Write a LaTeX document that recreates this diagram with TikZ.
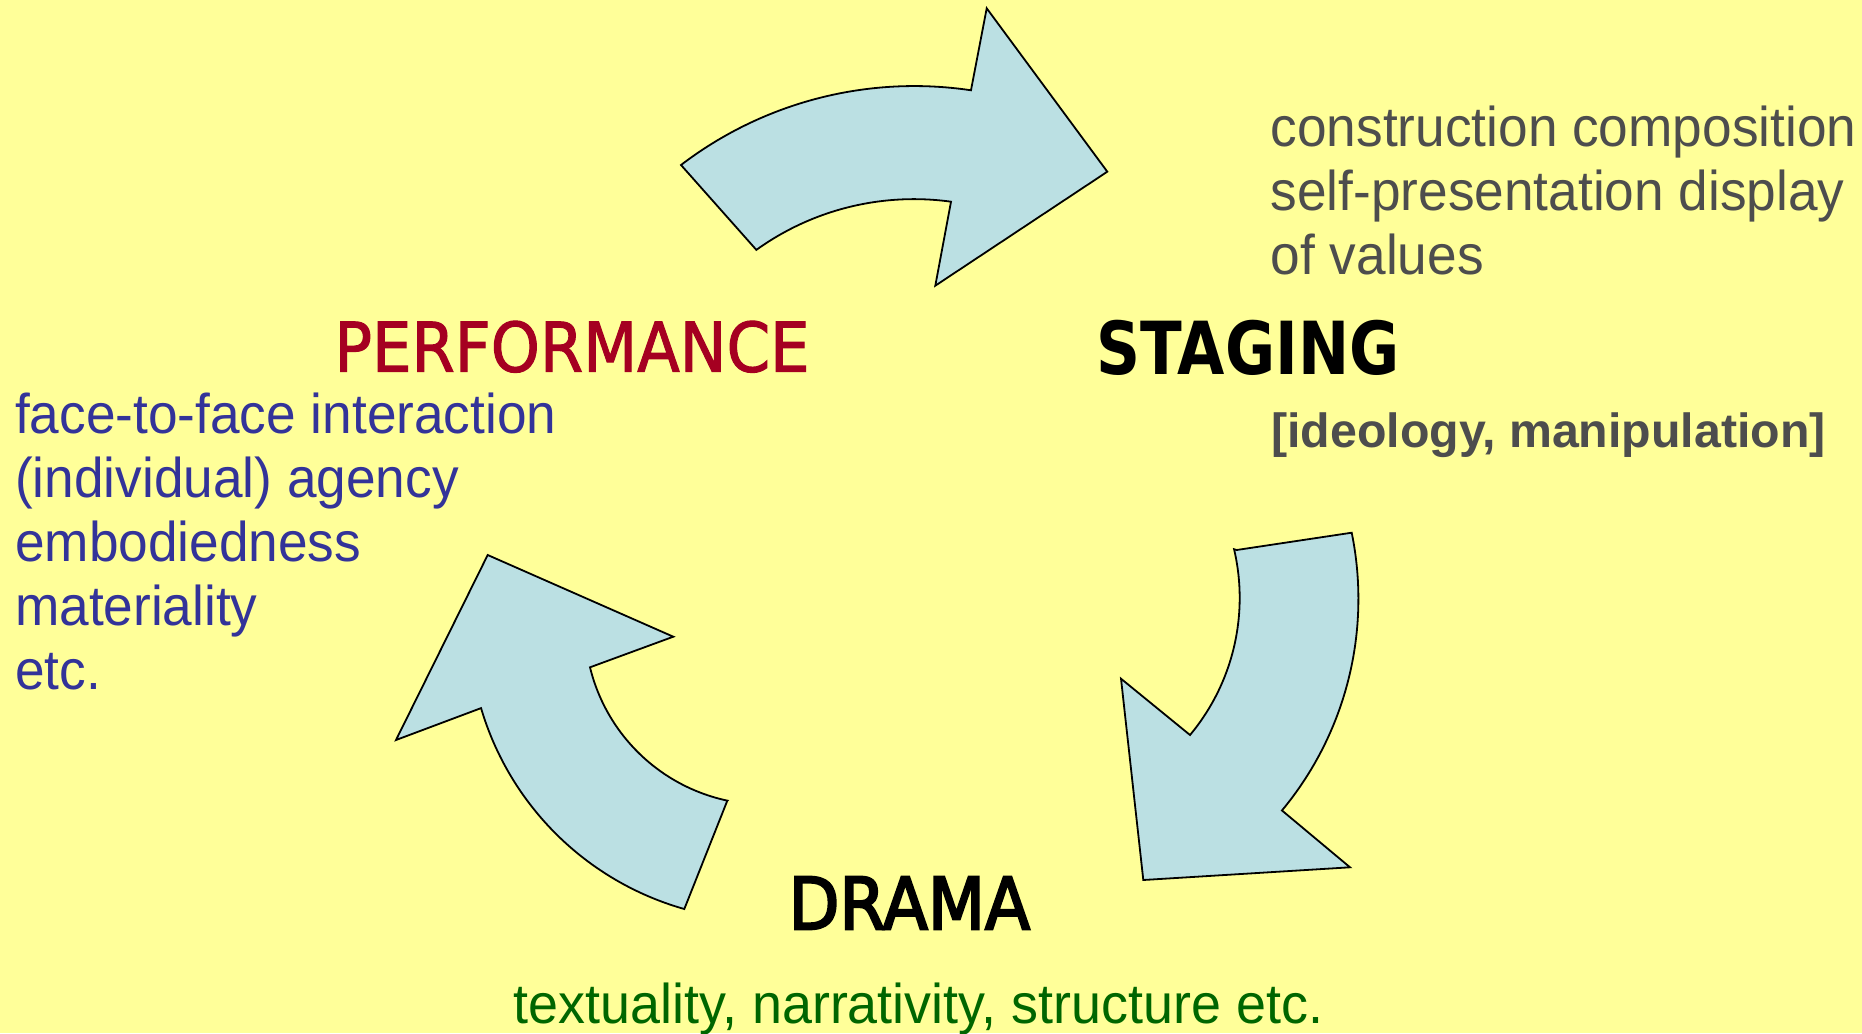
\documentclass[tikz,border=0pt]{standalone}
\usepackage{fontspec}
\setmainfont{Liberation Sans}
\newfontfamily\bodyfont[FakeStretch=0.95]{Liberation Sans}
\newfontfamily\greenfont[FakeStretch=0.962]{Liberation Sans}
\newfontfamily\bracketfont[FakeStretch=1.006]{Liberation Sans}
\newfontfamily\perffont[FakeStretch=0.91,FakeBold=1.5]{DejaVu Sans}
\newfontfamily\stagefont[FakeStretch=0.835]{DejaVu Sans}
\newfontfamily\dramafont[FakeStretch=0.915,FakeBold=3]{DejaVu Sans}
\definecolor{bgyellow}{HTML}{FFFF99}
\definecolor{arrowblue}{HTML}{BBE0E3}
\definecolor{perfred}{HTML}{A50021}
\definecolor{textgray}{HTML}{4D4D4D}
\definecolor{textblue}{HTML}{333399}
\definecolor{textgreen}{HTML}{006600}
\tikzset{
  arrowshape/.style={fill=arrowblue, draw=black, line width=1.8pt, line join=miter},
  txt/.style={inner sep=0pt, anchor=base west},
  bodytext/.style={txt, font=\bodyfont\fontsize{56}{64}\selectfont},
  graytext/.style={bodytext, text=textgray},
  bluetext/.style={bodytext, text=textblue},
  greentext/.style={txt, text=textgreen, font=\greenfont\fontsize{56}{64}\selectfont},
  brackettext/.style={txt, text=textgray, font=\bracketfont\bfseries\fontsize{48}{56}\selectfont},
  perfhead/.style={txt, text=perfred, font=\perffont\fontsize{68.6}{80}\selectfont},
  stagehead/.style={txt, text=black, font=\stagefont\bfseries\fontsize{73.2}{84}\selectfont},
  dramahead/.style={txt, text=black, font=\dramafont\fontsize{72.2}{84}\selectfont}
}
\begin{document}
\begin{tikzpicture}[x=1pt,y=1pt]
\fill[bgyellow] (0,0) rectangle (1862,-1033);
\useasboundingbox (0,0) rectangle (1862,-1033);

% top arrow
\draw[arrowshape] (681,-165) arc[start angle=127.4, end angle=81.5, radius=384]
  -- (986.7,-8.3) -- (1107.3,-171.7) -- (935.3,-285.7) -- (951,-201.7)
  arc[start angle=82.1, end angle=125.7, radius=270] -- cycle;

% right arrow
\draw[arrowshape] (1236.7,-550) -- (1351.7,-532.7)
  arc[start angle=11.54, end angle=-39.73, radius=331]
  -- (1350,-867.3) -- (1143.3,-880) -- (1121,-678.7) -- (1190,-735)
  arc[start angle=-39.84, end angle=13.15, radius=214] -- cycle;

% left arrow
\draw[arrowshape] (727.3,-800.7) -- (684.3,-909)
  arc[start angle=-105.8, end angle=-163.53, radius=296]
  -- (396,-740) -- (487.7,-555) -- (673.3,-636.7) -- (590,-667.3)
  arc[start angle=-166.27, end angle=-102.02, radius=180] -- cycle;

% headings
\node[perfhead] (perf) at (334.2,-371.7) {PERFORMANCE};
\node[stagehead] (stag) at (1096.7,-374) {STAGING};
\node[dramahead] (drama) at (788.4,-929.3) {DRAMA};

% staging texts
\node[graytext] (st1) at (1270.6,-146.7) {construction composition};
\node[graytext] (st2) at (1270.6,-210.7) {self-presentation display};
\node[graytext] (st3) at (1270.6,-274.4) {of values};
\node[brackettext] (st4) at (1271,-447) {[ideology, manipulation]};

% performance texts
\node[bluetext] (pf1) at (15,-433.3) {face-to-face interaction};
\node[bluetext] (pf2) at (15,-497.3) {(individual) agency};
\node[bluetext] (pf3) at (15,-561.3) {embodiedness};
\node[bluetext] (pf4) at (15,-625.3) {materiality};
\node[bluetext] (pf5) at (15,-689.3) {etc.};

% drama text
\node[greentext] (dr1) at (513.5,-1023.3) {textuality, narrativity, structure etc.};
\end{tikzpicture}
\end{document}
